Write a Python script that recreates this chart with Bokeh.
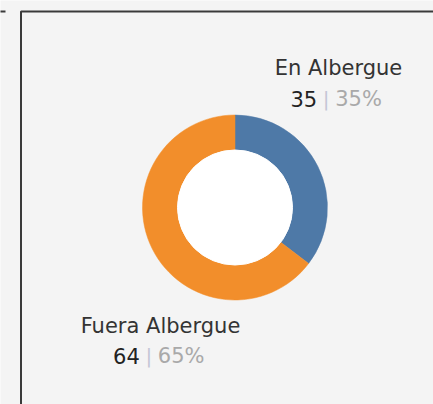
import numpy as np
from bokeh.plotting import figure
from bokeh.models import Range1d, ColumnDataSource
from bokeh.core.properties import value
from bokeh.embed import file_html
from bokeh.resources import INLINE

# ---- data ----
categories = ["En Albergue", "Fuera Albergue"]
counts = [35, 64]
colors = ["#4e79a7", "#f28e2b"]

total = sum(counts)
frac = np.array(counts) / total
ends = np.pi / 2 - 2 * np.pi * np.cumsum(frac)
starts = np.concatenate([[np.pi / 2], ends[:-1]])
pct_labels = [f"{round(100 * f)}%" for f in frac]
num_labels = [str(c) for c in counts]

# ---- layout (pixels within the figure) ----
W, H = 433, 404
cx, cy = 234.5, 197.0
r_out, r_in = 92.5, 57.5
label_cx = [338.0, 160.0]      # centre of the category line
label_y1 = [337.0, 78.7]       # baseline of category line
label_y2 = [306.0, 48.7]       # baseline of value line
bar_x = [325.7, 148.3]         # separator position

FONT = "DejaVu Sans"
BG = "#f4f4f4"

p = figure(width=W, height=H, x_range=Range1d(0, W), y_range=Range1d(0, H),
           output_backend="svg", toolbar_location=None, min_border=0,
           background_fill_color=BG, border_fill_color=BG)
p.axis.visible = False
p.grid.visible = False
p.outline_line_color = None

# panel borders
p.line(x=[20.5, 20.5, W + 5], y=[-5, 393, 393], line_color="#3a3a3a", line_width=2)
p.line(x=[-5, 5], y=[393, 393], line_color="#3a3a3a", line_width=2)

src = ColumnDataSource(dict(cat=categories, start=starts, end=ends, color=colors))
p.annular_wedge(x=cx, y=cy, inner_radius=r_in, outer_radius=r_out,
                start_angle="start", end_angle="end", direction="clock",
                fill_color="color", line_color="color", line_width=0.5, source=src)
p.circle(x=cx, y=cy, radius=r_in, fill_color="white", line_color="white")

lab = ColumnDataSource(dict(cat=categories, num=num_labels, pct=pct_labels,
                            cxl=label_cx, y1=label_y1, y2=label_y2,
                            bx=bar_x,
                            nx=[b - 9 for b in bar_x],
                            px=[b + 9 for b in bar_x]))
p.text(x="cxl", y="y1", text="cat", source=lab, text_font=value(FONT),
       text_font_size="21px", text_color="#333333", text_align="center",
       text_baseline="alphabetic")
p.text(x="nx", y="y2", text="num", source=lab, text_font=value(FONT),
       text_font_size="21px", text_color="#222222", text_align="right",
       text_baseline="alphabetic")
p.text(x="bx", y="y2", text=value("|"), source=lab, text_font=value(FONT),
       text_font_size="20px", text_color="#c4c6d6", text_align="center",
       text_baseline="alphabetic")
p.text(x="px", y="y2", text="pct", source=lab, text_font=value(FONT),
       text_font_size="21px", text_color="#a9a9a9", text_align="left",
       text_baseline="alphabetic")

open("out.html", "w").write(file_html(p, INLINE))
